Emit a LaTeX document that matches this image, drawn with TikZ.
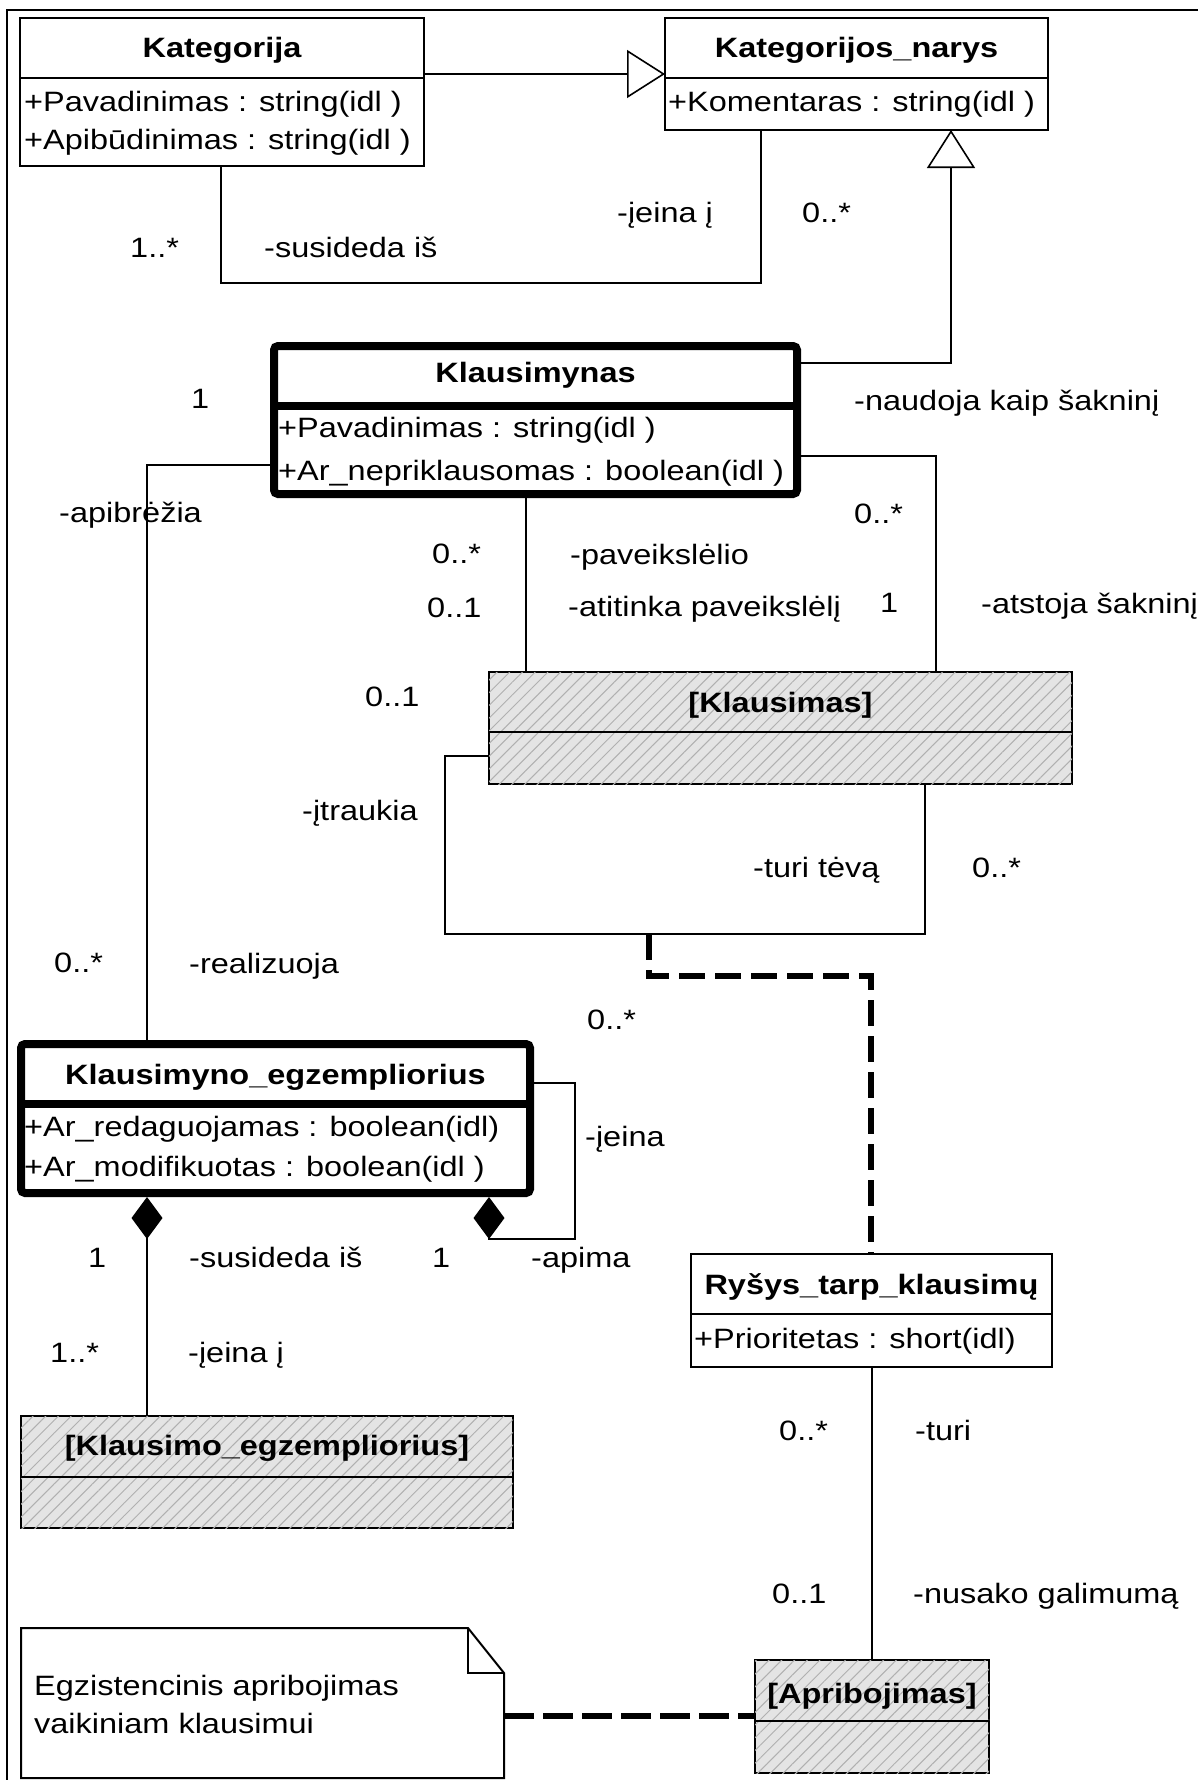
\documentclass[tikz,border=0pt]{standalone}
\usepackage{fontspec}
\setmainfont{Liberation Sans}[FakeStretch=1.16]
\usetikzlibrary{arrows.meta,patterns.meta,calc}
\definecolor{hatchbg}{HTML}{E4E4E4}
\definecolor{hatchln}{HTML}{B0B0B0}

\begin{document}
\begin{tikzpicture}[x=1pt,y=-1pt,
  every node/.style={font=\fontsize{28}{34}\selectfont},
  cls/.style={draw, line width=2pt, inner sep=0pt, outer sep=0pt, anchor=north west, fill=white},
  heavy/.style={cls, line width=8pt, rounded corners=4pt},
  hatched/.style={cls, fill=hatchbg,
    postaction={pattern={Lines[angle=45,distance=9pt,line width=1pt]}, pattern color=hatchln}},
  title/.style={anchor=base, inner sep=0pt, font=\fontsize{28}{34}\selectfont\bfseries},
  attr/.style={anchor=base west, inner sep=0pt},
  lbl/.style={anchor=base west, inner sep=0pt},
  conn/.style={line width=1.6pt},
  gen/.style={conn, -{Triangle[open, length=38pt, width=48pt, fill=white]}},
  comp/.style={conn, -{Diamond[length=42pt, width=31pt]}},
  linkdash/.style={line width=6pt, dash pattern=on 26pt off 10pt},
]
\useasboundingbox (0,0) rectangle (1198,1780);

% outer frame (left and top edges)
\draw[line width=2.5pt] (7,1780) -- (7,10) -- (1198,10);

% ---------- classes ----------
\node[cls, minimum width=404pt, minimum height=148pt] (kat) at (20,18) {};
\draw[line width=2pt] (kat.west |- 0,78) -- (kat.east |- 0,78);
\node[title] (katT) at (kat.north |- 0,57) {Kategorija};
\node[attr] (katA1) at (24,111) {+Pavadinimas : string(idl )};
\node[attr] (katA2) at (24,149) {+Apibūdinimas : string(idl )};

\node[cls, minimum width=383pt, minimum height=112pt] (nar) at (665,18) {};
\draw[line width=2pt] (nar.west |- 0,78) -- (nar.east |- 0,78);
\node[title] (narT) at (nar.north |- 0,57) {Kategorijos\_narys};
\node[attr] (narA1) at (668,111) {+Komentaras : string(idl )};

\node[heavy, minimum width=523pt, minimum height=148pt] (kl) at (274,346) {};
\draw[line width=8pt] (kl.west |- 0,406) -- (kl.east |- 0,406);
\node[title] (klT) at (kl.north |- 0,382) {Klausimynas};
\node[attr] (klA1) at (278,437) {+Pavadinimas : string(idl )};
\node[attr] (klA2) at (278,480) {+Ar\_nepriklausomas : boolean(idl )};

\node[hatched, minimum width=583pt, minimum height=112pt] (kq) at (489,672) {};
\draw[line width=2pt] (kq.west |- 0,732) -- (kq.east |- 0,732);
\node[title] (kqT) at (kq.north |- 0,712) {[Klausimas]};

\node[heavy, minimum width=509pt, minimum height=149pt] (ke) at (21,1044) {};
\draw[line width=8pt] (ke.west |- 0,1104) -- (ke.east |- 0,1104);
\node[title] (keT) at (ke.north |- 0,1084) {Klausimyno\_egzempliorius};
\node[attr] (keA1) at (24,1136) {+Ar\_redaguojamas : boolean(idl)};
\node[attr] (keA2) at (24,1176) {+Ar\_modifikuotas : boolean(idl )};

\node[hatched, minimum width=492pt, minimum height=112pt] (kqe) at (21,1416) {};
\draw[line width=2pt] (kqe.west |- 0,1477) -- (kqe.east |- 0,1477);
\node[title] (kqeT) at (kqe.north |- 0,1455) {[Klausimo\_egzempliorius]};

\node[cls, minimum width=361pt, minimum height=113pt] (rys) at (691,1254) {};
\draw[line width=2pt] (rys.west |- 0,1314) -- (rys.east |- 0,1314);
\node[title] (rysT) at (rys.north |- 0,1294) {Ryšys\_tarp\_klausimų};
\node[attr] (rysA1) at (694,1348) {+Prioritetas : short(idl)};

\node[hatched, minimum width=234pt, minimum height=113pt] (apr) at (755,1660) {};
\draw[line width=2pt] (apr.west |- 0,1721) -- (apr.east |- 0,1721);
\node[title] (aprT) at (apr.north |- 0,1703) {[Apribojimas]};

% note with folded corner
\node[inner sep=0pt, outer sep=0pt, anchor=north west, minimum width=483pt, minimum height=150pt] (note) at (21,1628) {};
\draw[line width=2pt, fill=white] (note.north west) -- ($(note.north east)+(-36,0)$)
  -- ($(note.north east)+(0,45)$) -- (note.south east) -- (note.south west) -- cycle;
\draw[line width=2pt] ($(note.north east)+(-36,0)$) -- ($(note.north east)+(-36,45)$)
  -- ($(note.north east)+(0,45)$);
\node[lbl] (noteL1) at (34,1695) {Egzistencinis apribojimas};
\node[lbl] (noteL2) at (34,1733) {vaikiniam klausimui};

% ---------- bend points ----------
\coordinate (qloop) at (445,934);
\coordinate (qlink) at (649,934);
\coordinate (eloop) at (575,1239);

% ---------- connectors ----------
\draw[gen] (kat.east |- nar.west) -- (nar.west);
\draw[conn] (kat.south -| 221,0) -- ++(0,117) -| (nar.south -| 761,0);
\draw[gen] (kl.east |- 0,363) -| (nar.south -| 951,0);
\draw[conn] (kl.west |- 0,465) -| (ke.north -| 147,0);
\draw[conn] (kl.south -| 526,0) -- (kq.north -| 526,0);
\draw[conn] (kl.east |- 0,456) -| (kq.north -| 936,0);
\draw[conn] (kq.west |- 0,756) -| (qloop) -| (kq.south -| 925,0);
\draw[linkdash] (qlink) -- ++(0,42) -| (rys.north -| 871,0);
\draw[comp] (ke.east |- 0,1083) -| (eloop) -| ($(ke.south -| 489,0)+(0,4)$);
\draw[comp] (kqe.north -| 147,0) -- ($(ke.south -| 147,0)+(0,4)$);
\draw[conn] (rys.south -| 872,0) -- (apr.north -| 872,0);
\draw[line width=6pt, dash pattern=on 30pt off 9pt] (note.east |- 0,1716) -- (apr.west |- 0,1716);

% ---------- role names and multiplicities ----------
\node[lbl] (m1) at (130,257) {1..*};
\node[lbl] (r1) at (264,257) {-susideda iš};
\node[lbl] (r2) at (617,222) {-įeina į};
\node[lbl] (m2) at (802,222) {0..*};
\node[lbl] (r3) at (854,410) {-naudoja kaip šakninį};
\node[lbl] (m3) at (191,408) {1};
\node[lbl] (r4) at (59,522) {-apibrėžia};
\node[lbl] (m4) at (432,563) {0..*};
\node[lbl] (r5) at (570,564) {-paveikslėlio};
\node[lbl] (m5) at (427,617) {0..1};
\node[lbl] (r6) at (568,616) {-atitinka paveikslėlį};
\node[lbl] (m6) at (854,523) {0..*};
\node[lbl] (m7) at (880,612) {1};
\node[lbl] (r7) at (981,613) {-atstoja šakninį};
\node[lbl] (m8) at (365,706) {0..1};
\node[lbl] (r8) at (302,820) {-įtraukia};
\node[lbl] (r9) at (753,877) {-turi tėvą};
\node[lbl] (m9) at (972,877) {0..*};
\node[lbl] (m10) at (54,972) {0..*};
\node[lbl] (r10) at (189,973) {-realizuoja};
\node[lbl] (m11) at (587,1029) {0..*};
\node[lbl] (r11) at (585,1146) {-įeina};
\node[lbl] (m12) at (88,1267) {1};
\node[lbl] (r12) at (189,1267) {-susideda iš};
\node[lbl] (m13) at (432,1267) {1};
\node[lbl] (r13) at (531,1267) {-apima};
\node[lbl] (m14) at (50,1362) {1..*};
\node[lbl] (r14) at (188,1362) {-įeina į};
\node[lbl] (m15) at (779,1440) {0..*};
\node[lbl] (r15) at (915,1440) {-turi};
\node[lbl] (m16) at (772,1603) {0..1};
\node[lbl] (r16) at (913,1603) {-nusako galimumą};
\end{tikzpicture}
\end{document}
